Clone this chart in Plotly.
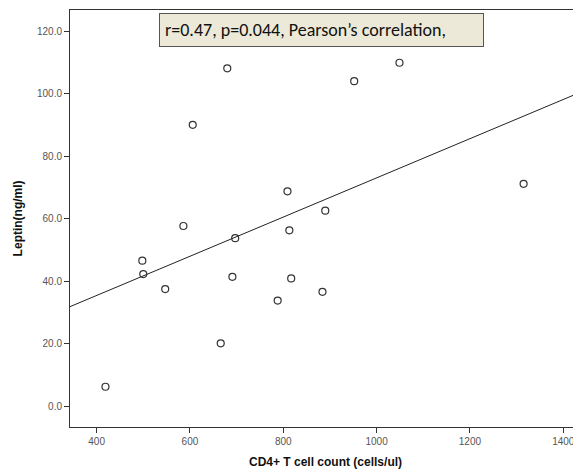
import numpy as np
import plotly.graph_objects as go

cd4 = [419, 498, 500, 547, 586, 606, 666, 680, 691, 697, 788, 809, 813, 817, 884, 890, 952, 1049, 1315]
leptin = [6.2, 46.6, 42.3, 37.5, 57.7, 90.1, 20.1, 108.2, 41.4, 53.8, 33.8, 68.8, 56.3, 40.9, 36.6, 62.6, 104.1, 110.0, 71.2]
x_ticks = [400, 600, 800, 1000, 1200, 1400]
y_ticks = [0, 20, 40, 60, 80, 100, 120]
x_range = [343, 1438]
y_range = [-6.7, 126.9]
note = "r=0.47, p=0.044, Pearson’s correlation,"
x_title = "<b>CD4+ T cell count (cells/ul)</b>"
y_title = "<b>Leptin(ng/ml)</b>"

slope, intercept = np.polyfit(cd4, leptin, 1)
lx = np.array(x_range, dtype=float)
ly = slope * lx + intercept

fig = go.Figure()
fig.add_trace(go.Scatter(x=lx, y=ly, mode="lines",
                         line=dict(color="#222222", width=1), hoverinfo="skip"))
fig.add_trace(go.Scatter(x=cd4, y=leptin, mode="markers",
                         marker=dict(symbol="circle-open", size=7,
                                     color="#333333", line=dict(width=1.2))))

axis_common = dict(showgrid=False, zeroline=False, showline=True, linecolor="#333333",
                   linewidth=1, ticks="outside", ticklen=5, tickcolor="#333333",
                   automargin=False,
                   tickfont=dict(family="Liberation Sans, Arial", size=10, color="#555555"))
fig.update_xaxes(range=x_range, tickvals=x_ticks, mirror=True, **axis_common)
fig.update_yaxes(range=y_range, tickvals=y_ticks, tickformat=".1f", **axis_common)

title_font = dict(family="Liberation Sans, Arial", size=12, color="#111111")
fig.add_annotation(xref="paper", yref="paper", x=0.5, y=-0.084, xanchor="center", yanchor="middle",
                   text=x_title, showarrow=False, font=title_font)
fig.add_annotation(xref="paper", yref="paper", x=-0.102, y=0.5, xanchor="center", yanchor="middle",
                   text=y_title, showarrow=False, textangle=-90, font=title_font)

fig.add_annotation(xref="paper", yref="paper", x=0.174, y=0.993, xanchor="left", yanchor="top",
                   text=note, showarrow=False, align="left", width=313, height=22,
                   font=dict(family="Carlito, Liberation Sans, Noto Sans", size=18, color="#111111"),
                   bgcolor="#ECE9D8", bordercolor="#555555", borderwidth=1, borderpad=5)

# page body has an 8px default margin, so the figure is sized to fit the window
fig.update_layout(width=573, height=462, showlegend=False,
                  margin=dict(l=62, r=0, t=2, b=43),
                  plot_bgcolor="white", paper_bgcolor="white")
fig.write_html("out.html")
